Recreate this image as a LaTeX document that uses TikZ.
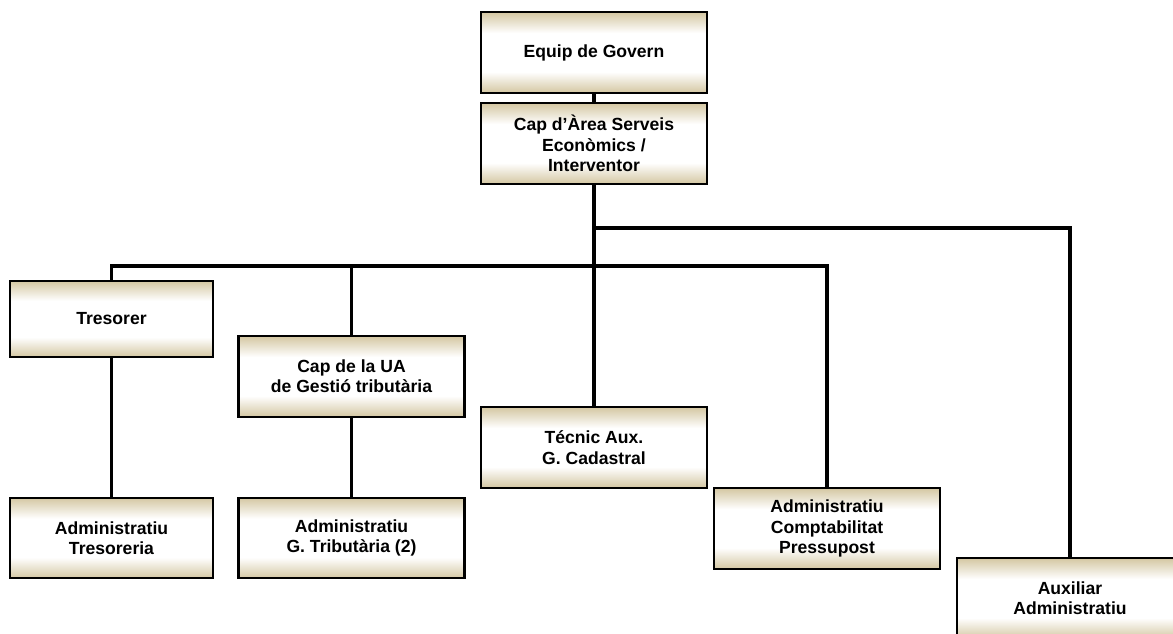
\documentclass[tikz,border=0pt]{standalone}
\usepackage{fontspec}
\setmainfont{Liberation Sans}
\usepackage{tikz}
\definecolor{org_tan}{RGB}{212, 199, 162}
\pgfdeclareverticalshading{org_shade}{100bp}{color(0bp)=(org_tan);
  color(25bp)=(org_tan); color(38bp)=(white); color(62bp)=(white);
  color(75bp)=(org_tan); color(100bp)=(org_tan)}
\tikzstyle{box}=[rectangle,draw=black,line width=1.5pt,shading=org_shade,
  align=center,inner sep=2pt,
  font=\fontsize{12.5}{14.5}\selectfont\bfseries,
  minimum width=5.65cm,minimum height=2.02cm]
\tikzstyle{link}=[line width=2.4pt,line cap=rect]

\begin{document}
\begin{tikzpicture}[x=0.025cm,y=-0.025cm]
    \useasboundingbox (0,0) rectangle (1173,633);
    \node [style=box] (gov) at (594,52.5) {Equip de Govern};
    \node [style=box] (cap) at (594,143.5) {Cap d’Àrea Serveis\\Econòmics /\\Interventor};
    \node [style=box,minimum width=5.07cm,minimum height=1.9cm] (tres) at (111.5,319) {Tresorer};
    \node [style=box] (capua) at (351.5,376.5) {Cap de la UA\\de Gestió tributària};
    \node [style=box] (tecnic) at (594,447.5) {Técnic Aux.\\G. Cadastral};
    \node [style=box] (comp) at (827,528.5) {Administratiu\\Comptabilitat\\Pressupost};
    \node [style=box] (aux) at (1070,598.5) {Auxiliar\\Administratiu};
    \node [style=box,minimum width=5.07cm] (admtres) at (111.5,538) {Administratiu\\Tresoreria};
    \node [style=box] (admtrib) at (351.5,538) {Administratiu\\G. Tributària (2)};
    \coordinate (j1) at (594,228);
    \coordinate (j2) at (594,266);
    \draw [style=link] (gov) to (cap);
    \draw [style=link] (cap) to (tecnic);
    \draw [style=link] (j1) -| (aux.north);
    \draw [style=link] (tres.north) |- (j2) -| (comp.north);
    \draw [style=link] (capua.north) to (capua.north |- j2);
    \draw [style=link] (tres) to (admtres);
    \draw [style=link] (capua) to (admtrib);
  \end{tikzpicture}
\end{document}
